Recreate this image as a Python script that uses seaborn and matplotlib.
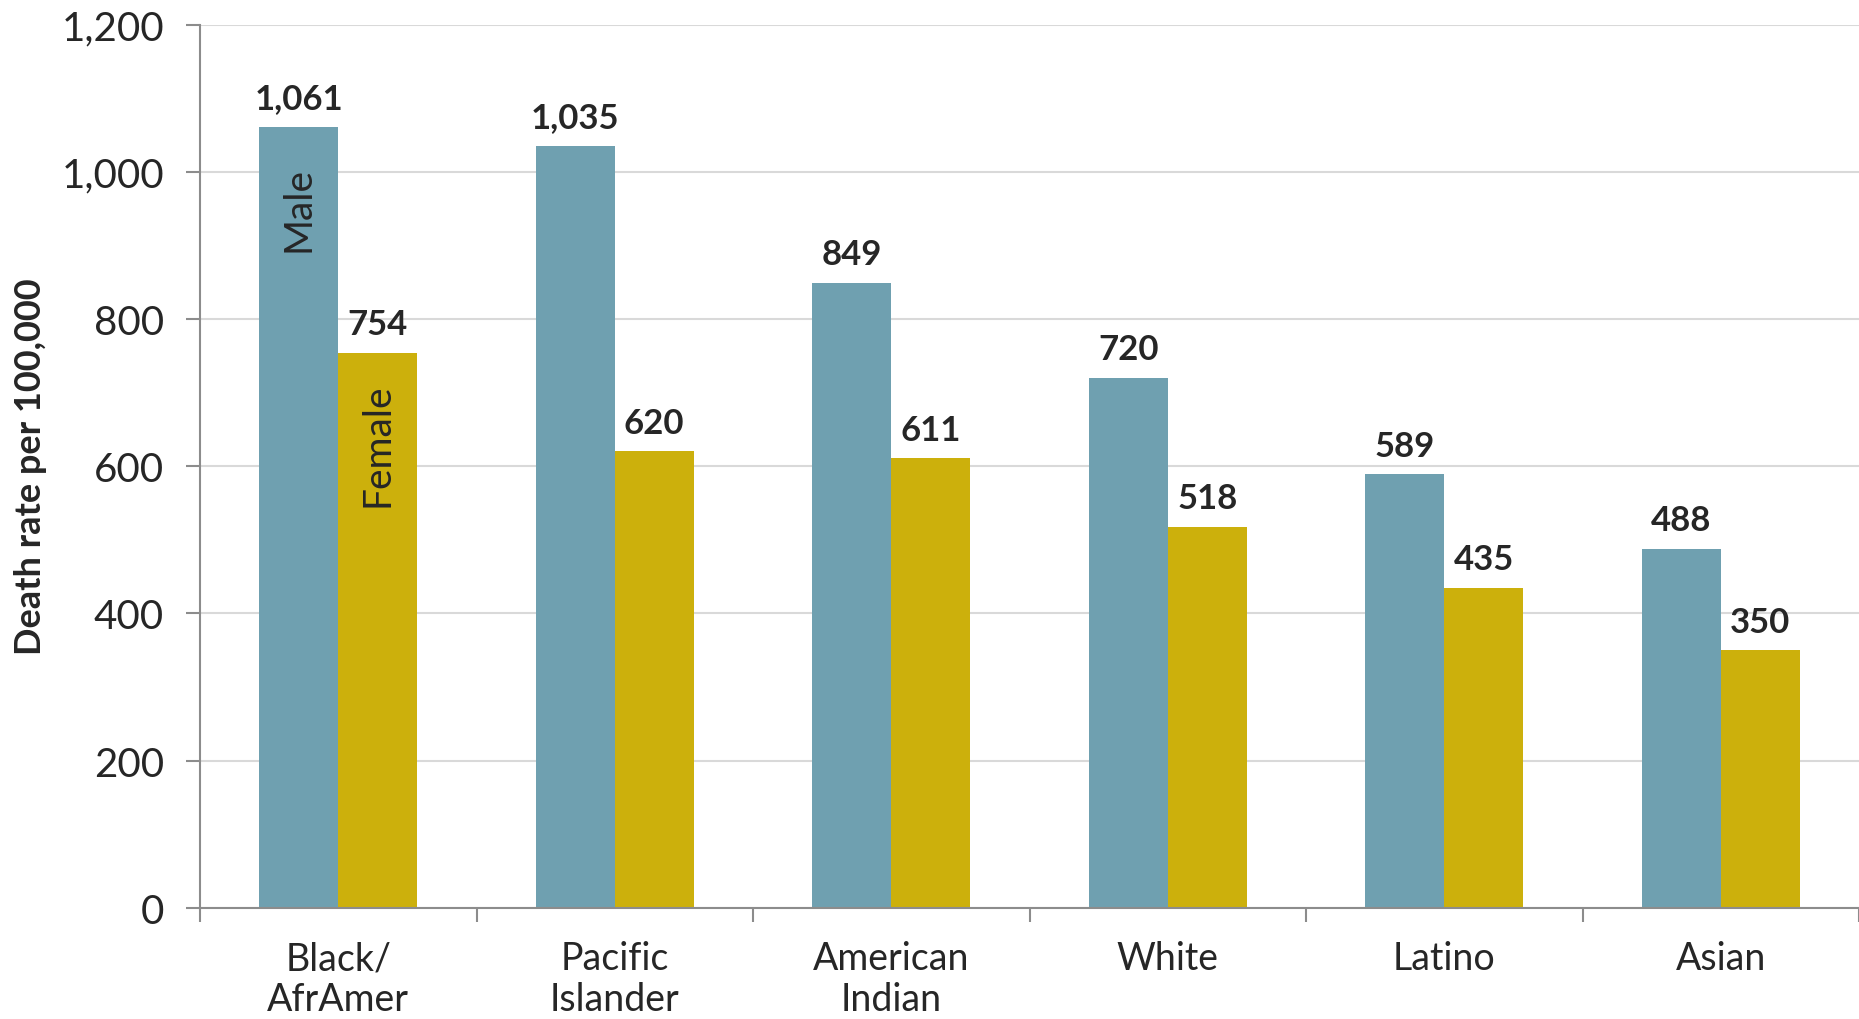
import pandas as pd
import matplotlib.pyplot as plt
import seaborn as sns
from matplotlib.ticker import FixedLocator

# Death rate per 100,000 by race/ethnicity and sex
groups = ['Black/\nAfrAmer', 'Pacific\nIslander', 'American\nIndian', 'White', 'Latino', 'Asian']
male = [1061, 1035, 849, 720, 589, 488]
female = [754, 620, 611, 518, 435, 350]
sexes = ['Male', 'Female']
colors = ['#6FA0B0', '#CCB00C']

df = pd.DataFrame({
    'Group': groups * 2,
    'Sex': ['Male'] * len(groups) + ['Female'] * len(groups),
    'Rate': male + female,
})

sns.set_style('white')
plt.rcParams['font.family'] = ['Lato', 'DejaVu Sans']

fig = plt.figure(figsize=(18.59, 10.2), dpi=100)
ax = fig.add_axes([0.1076, 0.109, 0.8924, 0.866])

sns.barplot(data=df, x='Group', y='Rate', hue='Sex', hue_order=sexes,
            palette=colors, width=0.57, linewidth=0, saturation=1,
            legend=False, ax=ax)

# value labels above bars
for cont in ax.containers:
    ax.bar_label(cont, labels=[f'{v:,.0f}' for v in cont.datavalues],
                 padding=9, fontsize=25, fontweight='bold')

# series names written inside the first pair of bars
bm = ax.containers[0][0]
bf = ax.containers[1][0]
ax.text(bm.get_x() + bm.get_width() / 2, 950, 'Male', rotation=90,
        ha='center', va='center', fontsize=28)
ax.text(bf.get_x() + bf.get_width() / 2, 630, 'Female', rotation=90,
        ha='center', va='center', fontsize=28)

ax.set_ylim(0, 1200)
ax.set_xlim(-0.5, len(groups) - 0.5)
ax.set_yticks(range(0, 1201, 200))
ax.set_yticklabels([f'{v:,}' for v in range(0, 1201, 200)], fontsize=29)
ax.yaxis.grid(True, color='#D9D9D9', linewidth=1.5)
ax.set_axisbelow(True)

ax.set_xlabel('')
ax.set_ylabel('Death rate per 100,000', fontsize=26, fontweight='bold')
ax.yaxis.set_label_coords(-0.092, 0.5)
ax.tick_params(axis='x', which='major', bottom=False, labelsize=27, pad=20)
ax.xaxis.set_minor_locator(FixedLocator([i - 0.5 for i in range(len(groups) + 1)]))
ax.tick_params(axis='x', which='minor', bottom=True, length=10, width=1.5,
               color='#8C8C8C', direction='out')
ax.tick_params(axis='y', left=True, length=10, width=1.5, color='#8C8C8C',
               direction='out', pad=16)
for lbl in ax.get_xticklabels():
    lbl.set_linespacing(1.15)
    lbl.set_va('top')

for side in ['top', 'right']:
    ax.spines[side].set_visible(False)
for side in ['left', 'bottom']:
    ax.spines[side].set_color('#8C8C8C')
    ax.spines[side].set_linewidth(1.5)

plt.savefig('out.png', dpi=100)
